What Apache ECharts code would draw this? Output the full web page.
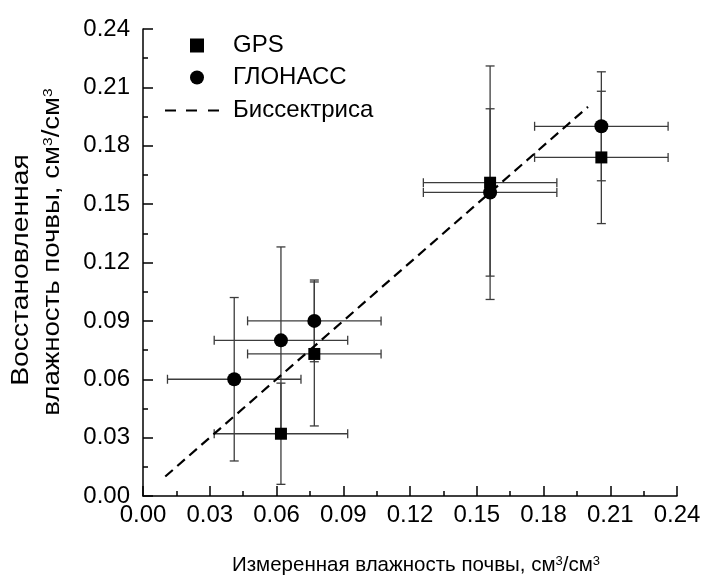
<!DOCTYPE html>
<html>
<head>
<meta charset="utf-8">
<script src="https://cdn.jsdelivr.net/npm/echarts@6/dist/echarts.min.js"></script>
<style>
  html, body { margin: 0; padding: 0; background: #fff; }
  #chart { width: 704px; height: 577px; }
</style>
</head>
<body>
<div id="chart"></div>
<script>
// Measured vs. retrieved soil moisture, cm3/cm3
const gpsX      = [0.062, 0.077, 0.156, 0.206];
const gpsY      = [0.032, 0.073, 0.161, 0.174];
const gpsXErr   = [0.030, 0.030, 0.030, 0.030];
const gpsYErr   = [0.026, 0.037, 0.060, 0.034];

const glonassX    = [0.041, 0.062, 0.077, 0.156, 0.206];
const glonassY    = [0.060, 0.080, 0.090, 0.156, 0.190];
const glonassXErr = [0.030, 0.030, 0.030, 0.030, 0.030];
const glonassYErr = [0.042, 0.048, 0.021, 0.043, 0.028];

// bisector endpoints (y = x)
const bisectorX = [0.01, 0.20];

const axisMin = 0, axisMax = 0.24, axisStep = 0.03;
const seriesNames = ['GPS', 'ГЛОНАСС', 'Биссектриса'];

const FONT = '"Liberation Sans", Arial, sans-serif';

const GRID = { left: 143, right: 27, top: 29, bottom: 81 };
const GRID_W = 704 - GRID.left - GRID.right;
const GRID_H = 577 - GRID.top - GRID.bottom;

function zip(xs, ys) { return xs.map((x, i) => [x, ys[i]]); }
function zipErr(xs, ys, ex, ey) { return xs.map((x, i) => [x, ys[i], ex[i], ey[i]]); }

// whiskers with end caps in both directions
function renderErrorBars(params, api) {
  const x = api.value(0), y = api.value(1), ex = api.value(2), ey = api.value(3);
  const l = api.coord([x - ex, y]), r = api.coord([x + ex, y]);
  const t = api.coord([x, y + ey]), b = api.coord([x, y - ey]);
  const cap = 4.5;
  const style = { stroke: '#3c3c3c', lineWidth: 1.3 };
  const seg = (x1, y1, x2, y2) => ({ type: 'line', shape: { x1, y1, x2, y2 }, style });
  return {
    type: 'group',
    children: [
      seg(l[0], l[1], r[0], r[1]),
      seg(t[0], t[1], b[0], b[1]),
      seg(l[0], l[1] - cap, l[0], l[1] + cap),
      seg(r[0], r[1] - cap, r[0], r[1] + cap),
      seg(t[0] - cap, t[1], t[0] + cap, t[1]),
      seg(b[0] - cap, b[1], b[0] + cap, b[1])
    ]
  };
}

const supRich = {
  sup: { fontSize: 13, verticalAlign: 'top', fontFamily: FONT, fill: '#000', color: '#000' }
};

// main axes: line + labels
function makeAxis(labelMargin) {
  return {
    type: 'value',
    min: axisMin, max: axisMax, interval: axisStep,
    axisLine: { show: true, onZero: false, lineStyle: { color: '#000', width: 1.5 } },
    axisTick: { show: false },
    minorTick: { show: false },
    splitLine: { show: false },
    axisLabel: {
      color: '#000', fontSize: 24, fontFamily: FONT, margin: labelMargin,
      formatter: v => v.toFixed(2)
    }
  };
}

// tick-only axes placed on the opposite side and shifted onto the main ones,
// so their outward ticks point into the plotting area
function makeTickAxis(position, offset) {
  return {
    type: 'value', position, offset,
    min: axisMin, max: axisMax, interval: axisStep,
    axisLine: { show: false, onZero: false },
    axisTick: { show: true, length: 10, lineStyle: { color: '#000', width: 1.5 } },
    minorTick: { show: true, splitNumber: 2, length: 5, lineStyle: { color: '#000', width: 1.5 } },
    splitLine: { show: false },
    minorSplitLine: { show: false },
    axisLabel: { show: false }
  };
}

// dashed stroke used as the bisector's legend icon
const dashIcon = 'path://M0,0H11V2H0Z M21,0H32V2H21Z M43,0H54V2H43Z';

const chart = echarts.init(document.getElementById('chart'), null, { renderer: 'canvas' });

chart.setOption({
  backgroundColor: '#fff',
  animation: false,
  textStyle: { fontFamily: FONT },
  grid: Object.assign({ containLabel: false, outerBoundsMode: 'none' }, GRID),
  xAxis: [
    Object.assign(makeAxis(7), {
      name: 'Измеренная влажность почвы, см{sup|3}/см{sup|3}',
      nameLocation: 'middle',
      nameGap: 59,
      nameTextStyle: { color: '#000', fontSize: 20.5, fontFamily: FONT, rich: supRich, padding: [0, 0, 0, 12] }
    }),
    makeTickAxis('top', -GRID_H)
  ],
  yAxis: [
    makeAxis(13),
    makeTickAxis('right', -GRID_W)
  ],
  legend: [
    {
      data: [{ name: seriesNames[0], icon: 'rect' }, { name: seriesNames[1], icon: 'circle' }],
      orient: 'vertical',
      left: 190, top: 33.5, padding: 0,
      itemWidth: 14, itemHeight: 14, itemGap: 8,
      textStyle: { color: '#000', fontSize: 24, fontFamily: FONT, padding: [0, 0, 0, 24] }
    },
    {
      data: [{ name: seriesNames[2], icon: dashIcon, itemStyle: { color: '#000' } }],
      orient: 'vertical',
      left: 165, top: 98.5, padding: 0,
      itemWidth: 54, itemHeight: 2.2,
      textStyle: { color: '#000', fontSize: 24, fontFamily: FONT, padding: [0, 0, 0, 9] }
    }
  ],
  graphic: [
    {
      type: 'text', x: 22, y: 270, rotation: Math.PI / 2, scaleX: 1.23,
      style: {
        text: 'Восстановленная', fontSize: 23, fontFamily: FONT, fill: '#000',
        align: 'center', verticalAlign: 'middle'
      }
    },
    {
      type: 'text', x: 53, y: 252, rotation: Math.PI / 2, scaleX: 1.2,
      style: {
        text: 'влажность почвы, см{sup|3}/см{sup|3}', fontSize: 23, fontFamily: FONT, fill: '#000',
        align: 'center', verticalAlign: 'middle', rich: supRich
      }
    }
  ],
  series: [
    {
      name: 'gpsErr', type: 'custom', renderItem: renderErrorBars,
      data: zipErr(gpsX, gpsY, gpsXErr, gpsYErr), z: 1, silent: true
    },
    {
      name: 'glonassErr', type: 'custom', renderItem: renderErrorBars,
      data: zipErr(glonassX, glonassY, glonassXErr, glonassYErr), z: 1, silent: true
    },
    {
      name: seriesNames[2], type: 'line', data: zip(bisectorX, bisectorX),
      symbol: 'none', z: 2,
      lineStyle: { color: '#000', width: 2.2, type: [10, 6] },
      itemStyle: { color: '#000' }
    },
    {
      name: seriesNames[0], type: 'scatter', data: zip(gpsX, gpsY),
      symbol: 'rect', symbolSize: 12, z: 3,
      itemStyle: { color: '#000', opacity: 1 }
    },
    {
      name: seriesNames[1], type: 'scatter', data: zip(glonassX, glonassY),
      symbol: 'circle', symbolSize: 14, z: 3,
      itemStyle: { color: '#000', opacity: 1 }
    }
  ]
});
</script>
</body>
</html>
